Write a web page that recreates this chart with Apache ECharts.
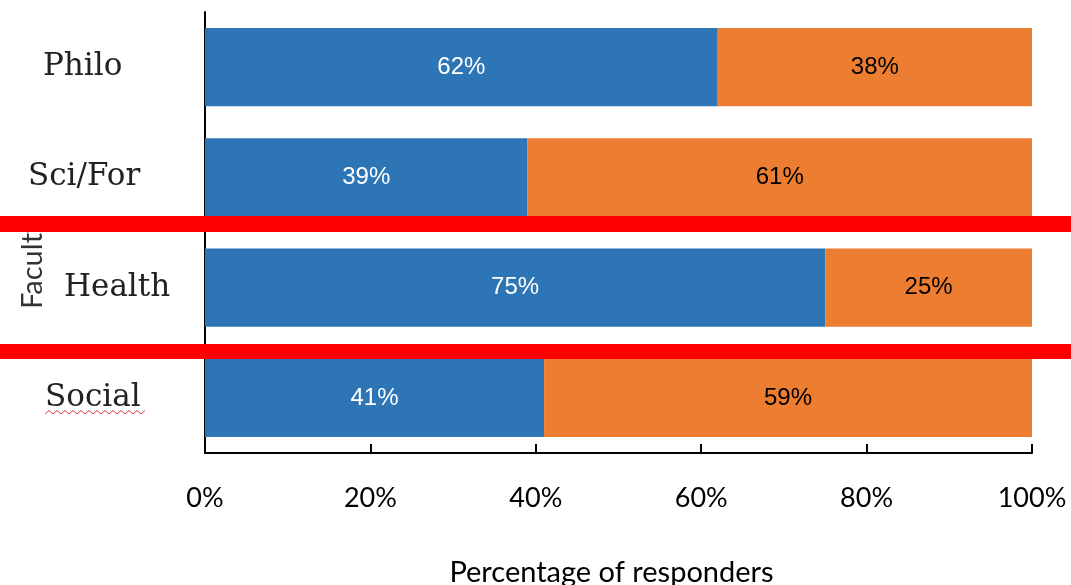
<!DOCTYPE html>
<html>
<head>
<meta charset="utf-8">
<script src="https://cdn.jsdelivr.net/npm/echarts@6/dist/echarts.min.js"></script>
<style>
  html, body { margin: 0; padding: 0; background: #ffffff; }
  #chart { width: 1071px; height: 585px; }
</style>
</head>
<body>
<div id="chart"></div>
<script>
// ---- data ----
const categories = ['Philo', 'Sci/For', 'Health', 'Social'];
const seriesBlue = [62, 39, 75, 41];
const seriesOrange = [38, 61, 25, 59];
const xTickValues = [0, 20, 40, 60, 80, 100];
const axisTitleX = 'Percentage of responders';
const axisTitleY = 'Faculty';

// ---- styles ----
const labelIndent = { 'Philo': 'p', 'Sci/For': 's', 'Health': 'h', 'Social': 'o' };
const serifFont = '"DejaVu Serif", serif';

const chart = echarts.init(document.getElementById('chart'), null, { renderer: 'canvas' });

// squiggle under "Social" (spell-check underline decoration)
const squiggle = [];
for (let i = 0; i <= 25; i++) {
  squiggle.push([45 + i * 4, i % 2 === 0 ? 414 : 410.5]);
}

const option = {
  backgroundColor: '#ffffff',
  animation: false,
  grid: { left: 205, right: 39, top: 12, bottom: 132, containLabel: false, outerBoundsMode: 'none' },
  xAxis: {
    type: 'value',
    min: 0,
    max: 100,
    interval: 20,
    name: axisTitleX,
    nameLocation: 'middle',
    nameGap: 105,
    nameMoveOverlap: false,
    nameTextStyle: { fontFamily: 'Lato', fontSize: 29, color: '#000000', padding: [0, 14, 0, 0] },
    axisLine: { show: true, lineStyle: { color: '#000000', width: 2 } },
    axisTick: { show: true, inside: true, length: 9, lineStyle: { color: '#000000', width: 2 } },
    splitLine: { show: false },
    axisLabel: {
      formatter: function (v) { return xTickValues.indexOf(v) >= 0 ? v + '%' : ''; },
      fontFamily: 'Lato',
      fontSize: 27,
      color: '#000000',
      margin: 32
    }
  },
  yAxis: {
    type: 'category',
    data: categories,
    inverse: true,
    name: axisTitleY,
    nameLocation: 'middle',
    nameRotate: 90,
    nameGap: 158,
    nameMoveOverlap: false,
    nameTextStyle: { fontFamily: 'Lato', fontSize: 29, color: '#333333', padding: [0, 62, 0, 0] },
    axisLine: { show: true, lineStyle: { color: '#000000', width: 2 } },
    axisTick: { show: false },
    axisLabel: {
      align: 'left',
      margin: 177,
      formatter: function (v) { return '{' + labelIndent[v] + '|' + v + '}'; },
      rich: {
        p: { fontFamily: serifFont, fontSize: 31, color: '#222222', padding: [0, 0, 0, 15] },
        s: { fontFamily: serifFont, fontSize: 31, color: '#222222', padding: [0, 0, 0, 0] },
        h: { fontFamily: serifFont, fontSize: 31, color: '#222222', padding: [0, 0, 0, 36] },
        o: { fontFamily: serifFont, fontSize: 31, color: '#222222', padding: [0, 0, 0, 17] }
      }
    }
  },
  series: [
    {
      type: 'bar',
      stack: 'total',
      data: seriesBlue,
      barCategoryGap: '29%',
      itemStyle: { color: '#2E75B6' },
      label: {
        show: true, position: 'inside', formatter: '{c}%',
        fontFamily: '"Liberation Sans", Arial, sans-serif', fontSize: 24, color: '#ffffff'
      }
    },
    {
      type: 'bar',
      stack: 'total',
      data: seriesOrange,
      barCategoryGap: '29%',
      itemStyle: { color: '#ED7D31' },
      label: {
        show: true, position: 'inside', formatter: '{c}%',
        fontFamily: '"Liberation Sans", Arial, sans-serif', fontSize: 24, color: '#000000'
      }
    }
  ],
  graphic: [
    { type: 'rect', z: 100, shape: { x: 0, y: 216, width: 1071, height: 16 }, style: { fill: '#ff0000' } },
    { type: 'rect', z: 100, shape: { x: 0, y: 344, width: 1071, height: 15 }, style: { fill: '#ff0000' } },
    { type: 'polyline', z: 100, shape: { points: squiggle }, style: { stroke: '#e23b3b', lineWidth: 1, fill: null } }
  ]
};

chart.setOption(option);
</script>
</body>
</html>
